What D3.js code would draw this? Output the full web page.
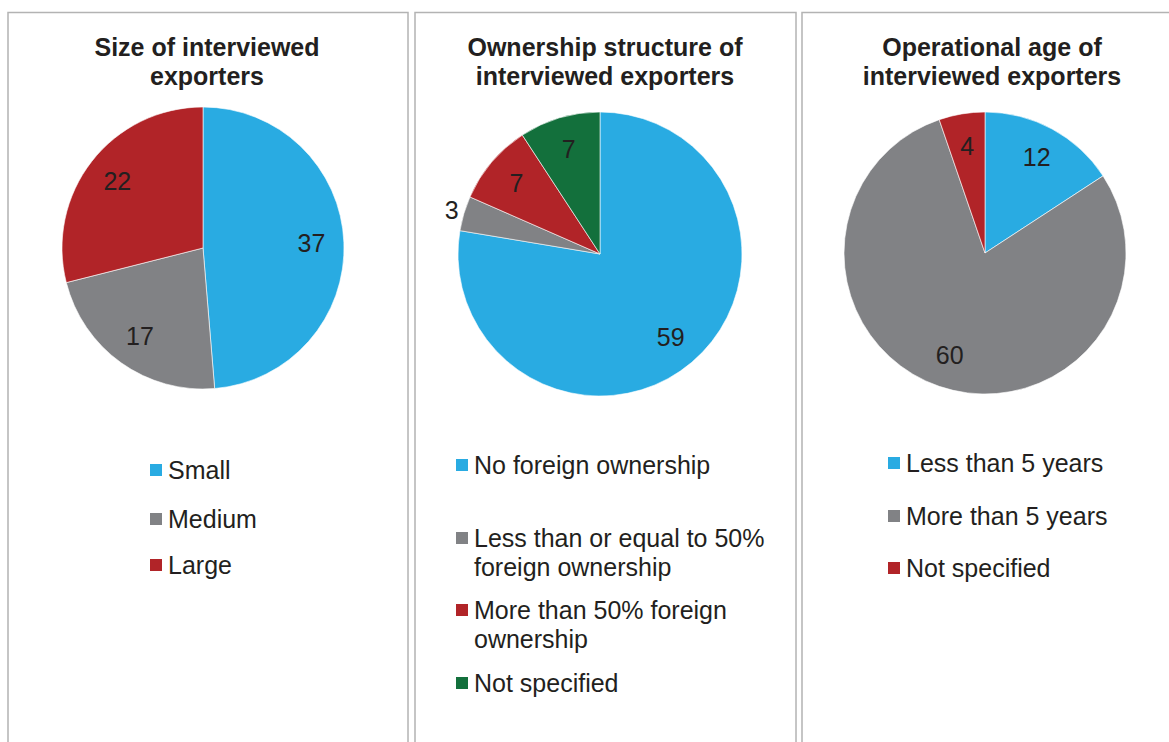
<!DOCTYPE html>
<html>
<head>
<meta charset="utf-8">
<script src="https://cdn.jsdelivr.net/npm/d3@7"></script>
<style>
  html, body { margin: 0; padding: 0; background: #fff; }
  svg { display: block; font-family: "Liberation Sans", Arial, sans-serif; }
</style>
</head>
<body>
<svg id="chart" width="1169" height="742"></svg>
<script>
// Survey counts for the three panels
const sizeCategories = ["Small", "Medium", "Large"];
const sizeValues = [37, 17, 22];

const ownershipCategories = [
  "No foreign ownership",
  "Less than or equal to 50% foreign ownership",
  "More than 50% foreign ownership",
  "Not specified"
];
const ownershipValues = [59, 3, 7, 7];

const ageCategories = ["Less than 5 years", "More than 5 years", "Not specified"];
const ageValues = [12, 60, 4];

const sizeTitle = ["Size of interviewed", "exporters"];
const ownershipTitle = ["Ownership structure of", "interviewed exporters"];
const ageTitle = ["Operational age of", "interviewed exporters"];

const blue = "#29abe2", grey = "#818285", red = "#b12428", green = "#13703c";
const textColor = "#231f20";
const fontSize = 25;

const svg = d3.select("#chart");

// Panel layouts: frame, title centre, pie centre, legend rows (line breaks + y of first line)
const panels = [
  {
    frame: [8, 12.5, 400, 760],
    titleX: 207, titleY: 47, title: sizeTitle,
    cx: 203, cy: 248, r: 141,
    cats: sizeCategories, vals: sizeValues, colors: [blue, grey, red],
    legendX: 150,
    legend: [{lines: ["Small"], y: 470}, {lines: ["Medium"], y: 519}, {lines: ["Large"], y: 565}]
  },
  {
    frame: [415, 12.5, 381, 760],
    titleX: 605, titleY: 47, title: ownershipTitle,
    cx: 600, cy: 254, r: 142,
    cats: ownershipCategories, vals: ownershipValues, colors: [blue, grey, red, green],
    legendX: 456,
    legend: [
      {lines: ["No foreign ownership"], y: 465},
      {lines: ["Less than or equal to 50%", "foreign ownership"], y: 538},
      {lines: ["More than 50% foreign", "ownership"], y: 610},
      {lines: ["Not specified"], y: 683}
    ]
  },
  {
    frame: [802, 12.5, 400, 760],
    titleX: 992, titleY: 47, title: ageTitle,
    cx: 985, cy: 253, r: 141,
    cats: ageCategories, vals: ageValues, colors: [blue, grey, red],
    legendX: 888,
    legend: [{lines: ["Less than 5 years"], y: 463}, {lines: ["More than 5 years"], y: 516}, {lines: ["Not specified"], y: 568}]
  }
];

const pie = d3.pie().sort(null).value(d => d);

panels.forEach(p => {
  const g = svg.append("g");

  g.append("rect")
    .attr("x", p.frame[0]).attr("y", p.frame[1])
    .attr("width", p.frame[2]).attr("height", p.frame[3])
    .attr("fill", "none").attr("stroke", "#b3b3b3").attr("stroke-width", 1.5);

  g.append("text")
    .attr("x", p.titleX).attr("y", p.titleY)
    .attr("text-anchor", "middle")
    .attr("font-size", fontSize).attr("font-weight", "bold").attr("fill", textColor)
    .selectAll("tspan").data(p.title).join("tspan")
    .attr("x", p.titleX)
    .attr("dy", (d, i) => i === 0 ? "0.35em" : 29)
    .text(d => d);

  const arcs = pie(p.vals);
  const total = d3.sum(p.vals);
  const arc = d3.arc().innerRadius(0).outerRadius(p.r);
  const pg = g.append("g").attr("transform", `translate(${p.cx},${p.cy})`);

  pg.selectAll("path").data(arcs).join("path")
    .attr("d", arc)
    .attr("fill", (d, i) => p.colors[i])
    .attr("stroke", "#fff").attr("stroke-width", 0.6);

  pg.selectAll("text").data(arcs).join("text")
    .attr("transform", d => {
      const a = (d.startAngle + d.endAngle) / 2;
      const k = d.value / total < 0.05 ? 1.09 : 0.77;
      return `translate(${Math.sin(a) * p.r * k},${-Math.cos(a) * p.r * k})`;
    })
    .attr("text-anchor", "middle").attr("dy", "0.35em")
    .attr("font-size", fontSize).attr("fill", textColor)
    .text(d => d.value);

  // Legend
  const lg = g.append("g");
  p.legend.forEach((item, i) => {
    lg.append("rect")
      .attr("x", p.legendX).attr("y", item.y - 6)
      .attr("width", 12).attr("height", 12)
      .attr("fill", p.colors[i]);
    lg.append("text")
      .attr("x", p.legendX + 18).attr("y", item.y)
      .attr("font-size", fontSize).attr("fill", textColor)
      .selectAll("tspan").data(item.lines).join("tspan")
      .attr("x", p.legendX + 18)
      .attr("dy", (d, j) => j === 0 ? "0.35em" : 29)
      .text(d => d);
  });
});
</script>
</body>
</html>
